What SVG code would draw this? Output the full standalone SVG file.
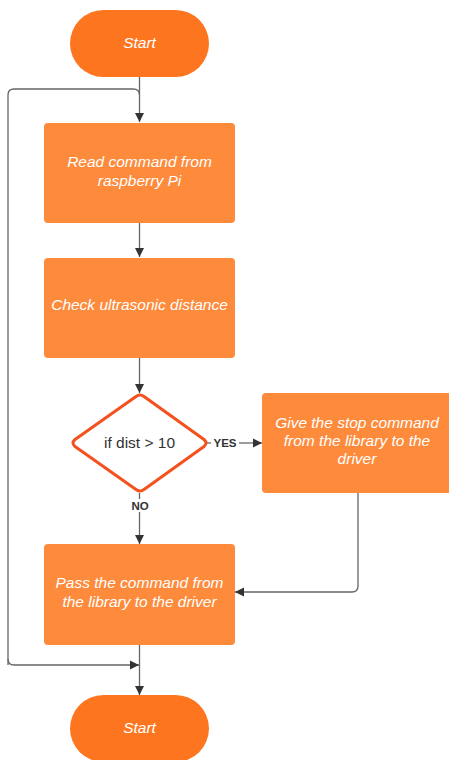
<svg xmlns="http://www.w3.org/2000/svg" width="449" height="760" viewBox="0 0 449 760">
<style>
.term{fill:#fd761f}
.box{fill:#fe8a3b}
.t{font-family:"Liberation Sans",Arial,sans-serif;font-style:italic;font-size:15.5px;fill:#ffffff;text-anchor:middle}
.d{font-family:"Liberation Sans",Arial,sans-serif;font-size:15.5px;fill:#333333;text-anchor:middle}
.lbl{font-family:"Liberation Sans",Arial,sans-serif;font-weight:bold;font-size:11.5px;fill:#333333;text-anchor:middle}
.c{fill:none;stroke:#666666;stroke-width:1.3}
</style>
<defs>
<marker id="ah" markerWidth="10" markerHeight="10" refX="9" refY="5" orient="auto" markerUnits="userSpaceOnUse">
<path d="M0,0.5 L9,5 L0,9.5 Z" fill="#333333"/>
</marker>
</defs>
<rect width="449" height="760" fill="#ffffff"/>
<g id="connectors">
<path class="c" d="M139.5,77 V122" marker-end="url(#ah)"/>
<path class="c" d="M8,665 V95 Q8,89 14,89 H133 Q139.5,89 139.5,95"/>
<path class="c" d="M139.5,223 V257" marker-end="url(#ah)"/>
<path class="c" d="M139.5,358 V393" marker-end="url(#ah)"/>
<path class="c" d="M207,443 H211"/>
<path class="c" d="M239,443 H262" marker-end="url(#ah)"/>
<path class="c" d="M139.5,493 V499"/>
<path class="c" d="M139.5,512 V544" marker-end="url(#ah)"/>
<path class="c" d="M358,493 V586 Q358,592 352,592 H235" marker-end="url(#ah)"/>
<path class="c" d="M8,659 Q8,665 14,665 H139" marker-end="url(#ah)"/>
<path class="c" d="M139.5,645 V695" marker-end="url(#ah)"/>
</g>
<g id="start">
<rect class="term" x="70" y="10" width="139" height="67" rx="33.5"/>
<text class="t" x="139.5" y="48" font-size="16">Start</text>
</g>
<g id="read">
<rect class="box" x="44" y="123" width="191" height="100" rx="4"/>
<text class="t" x="139.5" y="167">Read command from</text>
<text class="t" x="139.5" y="186">raspberry Pi</text>
</g>
<g id="check">
<rect class="box" x="44" y="258" width="191" height="100" rx="4"/>
<text class="t" x="139.5" y="310">Check ultrasonic distance</text>
</g>
<g id="decision">
<path d="M136,396.5 Q140,393.5 144,396.5 L204,439.5 Q208,443 204,446.5 L144,489.5 Q140,492.5 136,489.5 L75,446.5 Q71,443 75,439.5 Z" fill="#ffffff" stroke="#f4511e" stroke-width="3" stroke-linejoin="round"/>
<text class="d" x="139.5" y="448">if dist &gt; 10</text>
</g>
<g id="yes-label"><text class="lbl" x="225" y="447">YES</text></g>
<g id="no-label"><text class="lbl" x="140" y="510">NO</text></g>
<g id="stop">
<rect class="box" x="262" y="393" width="191" height="100" rx="4"/>
<text class="t" x="357" y="428">Give the stop command</text>
<text class="t" x="357" y="446">from the library to the</text>
<text class="t" x="357" y="464">driver</text>
</g>
<g id="pass">
<rect class="box" x="44" y="544" width="191" height="101" rx="4"/>
<text class="t" x="139.5" y="588">Pass the command from</text>
<text class="t" x="139.5" y="607">the library to the driver</text>
</g>
<g id="end">
<rect class="term" x="70" y="695" width="139" height="67" rx="33.5"/>
<text class="t" x="139.5" y="733" font-size="16">Start</text>
</g>
</svg>
